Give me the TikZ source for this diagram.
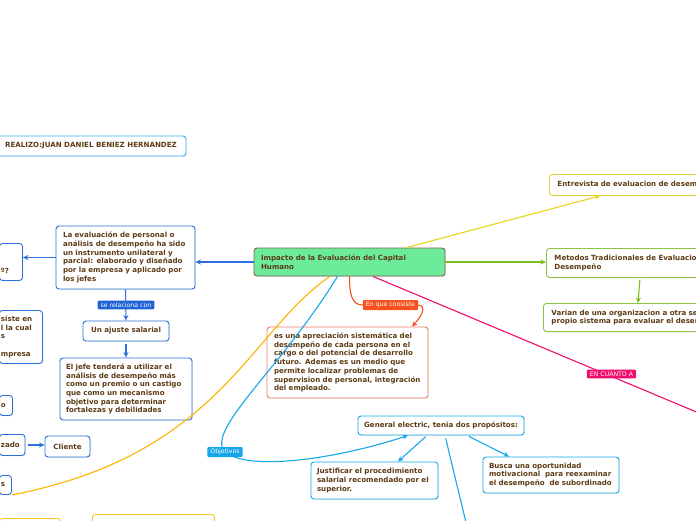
\documentclass[tikz,border=0pt]{standalone}
\usepackage{fontspec}
\setmainfont{DejaVu Sans}
\usetikzlibrary{arrows.meta,calc,shadows}
\definecolor{txtbrown}{HTML}{5E3B14}
\definecolor{cengreen}{HTML}{6CEB9B}
\definecolor{cenedge}{HTML}{806040}
\definecolor{lineblue}{HTML}{2A6FDB}
\definecolor{relblue}{HTML}{1F62D6}
\definecolor{realblue}{HTML}{3AB0F2}
\definecolor{cyanline}{HTML}{17A6EA}
\definecolor{orred}{HTML}{F4511E}
\definecolor{redbox}{HTML}{F07C62}
\definecolor{yelline}{HTML}{E9D41C}
\definecolor{yelbox}{HTML}{E4D23C}
\definecolor{grline}{HTML}{7DBB1E}
\definecolor{grbox}{HTML}{89C540}
\definecolor{pinkline}{HTML}{F20C6E}
\definecolor{orline}{HTML}{FFB300}
\definecolor{orbox}{HTML}{FFC21F}
\pgfdeclarelayer{front}
\pgfsetlayers{main,front}

\begin{document}
\begin{tikzpicture}[x=1pt,y=-1pt,
  box/.style={draw, fill=white, rounded corners=3pt, line width=0.9pt, text=txtbrown,
    font=\fontsize{7.1}{8.7}\selectfont\bfseries, align=left, inner xsep=6pt, inner ysep=3pt,
    drop shadow={opacity=0.15,shadow xshift=0.8pt,shadow yshift=-0.8pt}},
  cut/.style={box, anchor=north west, inner xsep=1.5pt},
  lbl/.style={fill=#1, text=white, font=\fontsize{6.2}{7}\selectfont, inner xsep=3pt, inner ysep=2pt, rounded corners=1pt},
  conn/.style={line width=1.1pt, draw=#1},
  headed/.style={-{Stealth[length=5.5pt,width=5pt]}}]
  \useasboundingbox (0,0) rectangle (696,520);
  \clip (0,0) rectangle (696,520);

  % boxes
  \node[box, draw=realblue, minimum width=190pt, minimum height=20pt] (realizo) at (91,146) {REALIZO:JUAN DANIEL BENIEZ HERNANDEZ};
  \node[box, draw=cenedge, fill=cengreen, text width=177pt, inner xsep=7pt, minimum height=28pt] (centre) at (349.5,262) {Impacto de la Evaluación del Capital\\Humano};
  \node[box, draw=lineblue, text width=125pt, inner xsep=7pt, minimum height=63pt] (evalua) at (125.5,257.5) {La evaluación de personal o\\análisis de desempeño ha sido\\un instrumento unilateral y\\parcial: elaborado y diseñado\\por la empresa y aplicado por\\los jefes};
  \node[box, draw=lineblue, minimum width=86pt, minimum height=20pt] (ajuste) at (126,331) {Un ajuste salarial};
  \node[box, draw=lineblue, text width=120pt, minimum height=62pt] (jefe) at (126,389) {El jefe tenderá a utilizar el\\análisis de desempeño más\\como un premio o un castigo\\que como un mecanismo\\objetivo para determinar\\fortalezas y debilidades};
  \node[box, draw=lineblue, minimum width=45pt, minimum height=21pt, inner xsep=3pt] (cliente) at (67.5,446.5) {Cliente};

  % boxes cut by the left edge
  \node[cut, draw=lineblue, text width=20pt, text height=25pt, text depth=2pt, inner ysep=5pt] (pregunta) at (-1,243) {º?};
  \node[cut, draw=lineblue, text width=40pt, minimum height=53pt] (consiste) at (-1,310) {siste en\\l la cual\\s\\\mbox{}\\mpresa};
  \node[cut, draw=lineblue, text width=10pt, minimum height=20pt] (leftC) at (-1,395) {o};
  \node[cut, draw=lineblue, text width=22.5pt, minimum height=21pt] (zado) at (-1,434) {zado};
  \node[cut, draw=lineblue, text width=9pt, minimum height=19pt] (leftE) at (-1,475) {s};
  \node[cut, draw=orbox, text width=58pt, minimum height=20pt] (bottomA) at (-1,518) {};
  \node[cut, draw=orbox, text width=119pt, minimum height=20pt] (bottomB) at (92,514) {};

  \node[box, draw=redbox, text width=147pt, inner xsep=7pt, minimum height=71pt] (reddish) at (347.5,362.5) {es una apreciación sistemática del\\desempeño de cada persona en el\\cargo o del potencial de desarrollo\\futuro. Ademas es un medio que\\permite localizar problemas de\\supervision de personal, integración\\del empleado.};
  \node[box, draw=cyanline, minimum width=166pt, minimum height=19pt] (general) at (441,425.5) {General electric, tenia dos propósitos:};
  \node[box, draw=cyanline, text width=115pt, minimum height=37pt] (justif) at (374.5,480.5) {Justificar el procedimiento\\salarial recomendado por el\\superior.};
  \node[box, draw=cyanline, text width=124pt, minimum height=36pt] (busca) at (551,475) {Busca una oportunidad\\motivacional\ \ para reexaminar\\el desempeño\ \ de subordinado};

  % boxes cut by the right edge
  \node[box, anchor=north west, draw=yelbox, text width=200pt, inner xsep=8pt, minimum height=21pt] (entrevista) at (549,174) {Entrevista de evaluacion de desempeño};
  \node[box, anchor=north west, draw=grbox, text width=200pt, inner xsep=8pt, minimum height=29pt] (metodos) at (546,248) {Metodos Tradicionales de Evaluacion del\\Desempeño};
  \node[box, anchor=north west, draw=grbox, text width=200pt, inner xsep=8pt, minimum height=28pt] (varian) at (543,303) {Varian de una organizacion a otra según su\\propio sistema para evaluar el desempeño};

  % labels on the lines
  \begin{pgfonlayer}{front}
    \node[lbl=relblue] (serel) at (126,305) {se relaciona con};
    \node[lbl=orred] (enque) at (390.5,305) {En que consiste};
    \node[lbl=cyanline] (objet) at (225,452) {Objetivos};
    \node[lbl=pinkline] (cuanto) at (611.5,374) {EN CUANTO A};
  \end{pgfonlayer}

  % connectors
  \draw[conn=lineblue, headed] (centre.west) -- (centre.west -| evalua.east);
  \draw[conn=lineblue, headed] (evalua.west) -- (evalua.west -| pregunta.east);
  \draw[conn=lineblue, headed] (evalua.south) -- (ajuste.north);
  \draw[conn=lineblue, headed, shorten <=3pt] (ajuste.south) -- (jefe.north);
  \draw[conn=lineblue, headed, shorten <=3pt] (zado.east) -- (zado.east -| cliente.west);

  \draw[conn=orline] ([xshift=-19.5pt]centre.south) .. controls (250,330) and (220,455) .. (leftE.south east);
  \draw[conn=cyanline, headed] ([xshift=-12pt]centre.south) .. controls (280,370) and (205,430) .. (objet.center)
    .. controls (250,472) and (340,458) .. ([xshift=-33pt]general.south);
  \draw[conn=orred] (centre.south) .. controls (349.5,295) and (352,305) .. (enque.west);
  \draw[conn=orred, headed] (enque.east) .. controls (428,306) and (420,318) .. ([xshift=64.5pt]reddish.north);

  \draw[conn=yelline, headed] ([xshift=57pt]centre.north) -- ([xshift=51pt]entrevista.south west);
  \draw[conn=grline, headed] (centre.east) -- (centre.east -| metodos.west);
  \draw[conn=grline, headed, shorten <=2pt] ([xshift=94pt]metodos.south west) -- ([xshift=95pt]varian.north west);
  \coordinate (pinkend) at (725,424);
  \draw[conn=pinkline] ([xshift=23.5pt]centre.south) -- (pinkend);

  \draw[conn=cyanline, headed, shorten <=2pt] ([xshift=-14pt]general.south) -- ([xshift=23.5pt]justif.north);
  \draw[conn=cyanline, headed, shorten <=2pt] ([xshift=26pt]general.south) -- ([xshift=-42pt]busca.north);
  \coordinate (gedown) at (469,535);
  \draw[conn=cyanline, shorten <=3pt] ([xshift=4pt]general.south) -- (gedown);
\end{tikzpicture}
\end{document}
